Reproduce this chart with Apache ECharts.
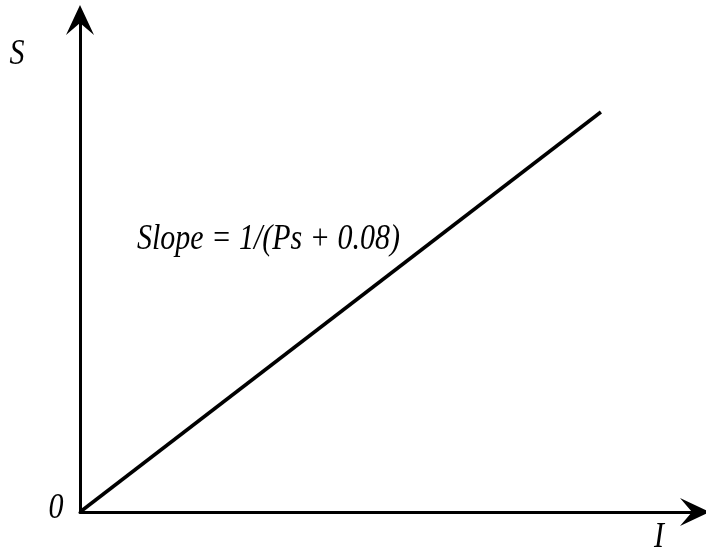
<!DOCTYPE html>
<html>
<head>
<meta charset="utf-8">
<script src="https://cdn.jsdelivr.net/npm/echarts@6/dist/echarts.min.js"></script>
<style>
	html, body {margin: 0; padding: 0; background: #fff;}
	#chart {width: 706px; height: 552px;}
</style>
</head>
<body>
<div id="chart"></div>
<script>
// straight line S vs I, starting at the origin
const iValues = [0, 84.7]
const sValues = [0, 81.3]
const slopeLabel = 'Slope = 1/(Ps + 0.08)'
const yName = 'S'
const xName = 'I'
const originLabel = '0'

const font = 'italic 30px "Liberation Serif", "Times New Roman", serif'
// chevron arrow head, pointing up (drawn centred on the axis end)
const arrowPath = 'path://M0,0 L14,30 L0,18 L-14,30 Z'

// the original lettering is a bit taller than wide
const label = (text, x, y, align) => ({
	type: 'text',
	x, y,
	scaleY: 1.2,
	style: {text, font, fill: '#000', align: align || 'left', verticalAlign: 'middle'}
})

const chart = echarts.init(document.getElementById('chart'))

chart.setOption({
	backgroundColor: '#fff',
	animation: false,
	grid: {left: 80, right: 11, top: 20, bottom: 40},
	xAxis: {
		type: 'value',
		min: 0,
		max: 100,
		splitLine: {show: false},
		axisTick: {show: false},
		axisLabel: {show: false},
		axisLine: {
			lineStyle: {color: '#000', width: 3},
			symbol: ['none', arrowPath],
			symbolSize: [28, 30]
		}
	},
	yAxis: {
		type: 'value',
		min: 0,
		max: 100,
		splitLine: {show: false},
		axisTick: {show: false},
		axisLabel: {show: false},
		axisLine: {
			lineStyle: {color: '#000', width: 3},
			symbol: ['none', arrowPath],
			symbolSize: [28, 30]
		}
	},
	graphic: [
		label(yName, 17, 55, 'center'),
		label(originLabel, 56, 509, 'center'),
		label(xName, 659, 538, 'center'),
		label(slopeLabel, 137, 240)
	],
	series: [{
		type: 'line',
		data: iValues.map((x, i) => [x, sValues[i]]),
		showSymbol: false,
		lineStyle: {color: '#000', width: 3.5}
	}]
})
</script>
</body>
</html>
